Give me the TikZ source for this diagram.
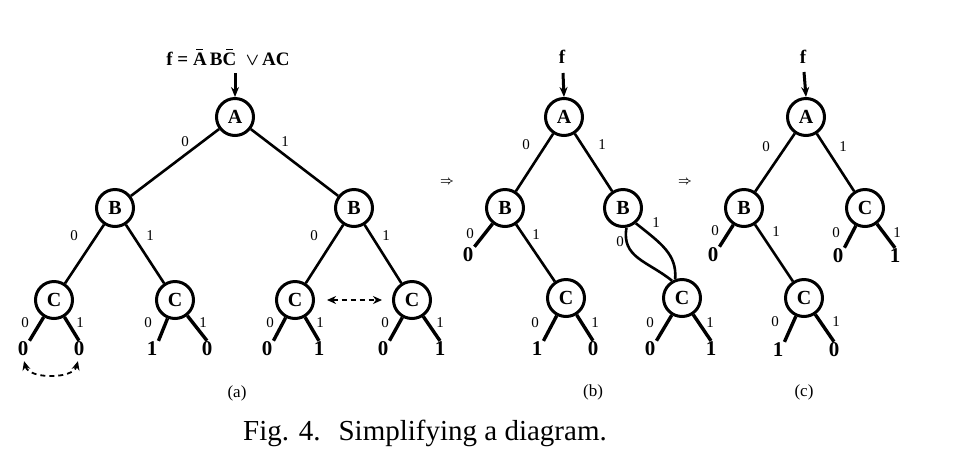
\documentclass[tikz,border=0pt]{standalone}
\usepackage{amsmath}
\usepackage{fontspec}
\setmainfont{Liberation Serif}
\usetikzlibrary{arrows.meta}
\newcommand\ovlet[1]{\leavevmode\setbox0\hbox{#1}\rlap{\hbox to \wd0{\hss\rule[\dimexpr\ht0+2.5pt\relax]{0.5\wd0}{1.3pt}\hss}}\box0}
\tikzset{
  vnode/.style={circle, draw, line width=3pt, minimum size=37pt, inner sep=0pt, font=\fontsize{20}{20}\selectfont\bfseries},
  elab/.style={font=\fontsize{15}{15}\selectfont, inner sep=0pt},
  leaf/.style={font=\fontsize{21}{21}\selectfont\bfseries, inner sep=1pt},
  flab/.style={font=\fontsize{19}{19}\selectfont\bfseries, inner sep=0pt},
  plab/.style={font=\fontsize{17}{17}\selectfont, inner sep=0pt},
  edge/.style={line width=2.6pt},
  ledge/.style={line width=3.4pt},
  inarrow/.style={line width=3pt, -{Stealth[length=10pt,width=8pt]}},
  dasharrow/.style={line width=1.8pt, dash pattern=on 5pt off 4pt, {Stealth[length=9pt,width=8pt]}-{Stealth[length=9pt,width=8pt]}},
}
\begin{document}
\begin{tikzpicture}[x=1pt,y=-1pt]
\useasboundingbox (0,0) rectangle (956,475);
% ---------------- (a) ----------------
\node[flab] (af) at (228,57) {f = \ovlet{A}\,B\ovlet{C}\ \ $\boldsymbol{\vee}$\,AC};
\coordinate (aft) at (235,73);
\node[vnode] (aA) at (235,117) {A};
\node[vnode] (aB1) at (115,208) {B};
\node[vnode] (aB2) at (354,208) {B};
\node[vnode] (aC1) at (54,300) {C};
\node[vnode] (aC2) at (175,300) {C};
\node[vnode] (aC3) at (295,300) {C};
\node[vnode] (aC4) at (412,300) {C};
\node[leaf] (aL1) at (23,349) {0};
\node[leaf] (aL2) at (79,349) {0};
\node[leaf] (aL3) at (152,349) {1};
\node[leaf] (aL4) at (207,349) {0};
\node[leaf] (aL5) at (267,349) {0};
\node[leaf] (aL6) at (319,349) {1};
\node[leaf] (aL7) at (383,349) {0};
\node[leaf] (aL8) at (440,349) {1};
\draw[inarrow] (aft) -- (aA.north);
\draw[edge] (aA) -- (aB1);
\draw[edge] (aA) -- (aB2);
\draw[edge] (aB1) -- (aC1);
\draw[edge] (aB1) -- (aC2);
\draw[edge] (aB2) -- (aC3);
\draw[edge] (aB2) -- (aC4);
\draw[ledge] (aC1) -- (aL1.north east);
\draw[ledge] (aC1) -- (aL2.north);
\draw[ledge] (aC2) -- (aL3.north east);
\draw[ledge] (aC2) -- (aL4.north);
\draw[ledge] (aC3) -- (aL5.north east);
\draw[ledge] (aC3) -- (aL6.north);
\draw[ledge] (aC4) -- (aL7.north east);
\draw[ledge] (aC4) -- (aL8.north);
\node[elab] (ae1) at (185,142) {0};
\node[elab] (ae2) at (285,142) {1};
\node[elab] (ae3) at (74,236) {0};
\node[elab] (ae4) at (150,236) {1};
\node[elab] (ae5) at (314,236) {0};
\node[elab] (ae6) at (386,236) {1};
\node[elab] (ae7) at (25,323) {0};
\node[elab] (ae8) at (80,323) {1};
\node[elab] (ae9) at (148,323) {0};
\node[elab] (ae10) at (203,323) {1};
\node[elab] (ae11) at (270,323) {0};
\node[elab] (ae12) at (320,323) {1};
\node[elab] (ae13) at (385,323) {0};
\node[elab] (ae14) at (440,323) {1};
\draw[dasharrow, shorten <=12pt, shorten >=10pt] (aC3) -- (aC4);
\draw[dasharrow, shorten <=4pt, shorten >=4pt] (aL1.south) .. controls +(6,22) and +(-6,22) .. (aL2.south);
\node[plab] (pa) at (237,393) {(a)};
% ---------------- arrows between ----------------
\node[font=\fontsize{13}{13}\selectfont] (imp1) at (447,182) {$\boldsymbol{\Rightarrow}$};
\node[font=\fontsize{13}{13}\selectfont] (imp2) at (685,182) {$\boldsymbol{\Rightarrow}$};
% ---------------- (b) ----------------
\node[flab] (bf) at (562,57) {f};
\coordinate (bft) at (563,73);
\node[vnode] (bA) at (564,117) {A};
\node[vnode] (bB1) at (505,208) {B};
\node[vnode] (bB2) at (623,208) {B};
\node[vnode] (bC1) at (566,298) {C};
\node[vnode] (bC2) at (682,298) {C};
\node[leaf] (bL0) at (468,255) {0};
\node[leaf] (bL1) at (537,349) {1};
\node[leaf] (bL2) at (593,349) {0};
\node[leaf] (bL3) at (650,349) {0};
\node[leaf] (bL4) at (711,349) {1};
\draw[inarrow] (bft) -- (bA.north);
\draw[edge] (bA) -- (bB1);
\draw[edge] (bA) -- (bB2);
\draw[ledge] (bB1) -- (bL0.north east);
\draw[edge] (bB1) -- (bC1);
\draw[edge] (bB2.-80) .. controls +(-5,30) and +(-25,-20) .. (bC2.120);
\draw[edge] (bB2.-50) .. controls +(25,20) and +(2,-25) .. (bC2.110);
\draw[ledge] (bC1) -- (bL1.north east);
\draw[ledge] (bC1) -- (bL2.north);
\draw[ledge] (bC2) -- (bL3.north east);
\draw[ledge] (bC2) -- (bL4.north);
\node[elab] (be1) at (526,145) {0};
\node[elab] (be2) at (602,145) {1};
\node[elab] (be3) at (470,234) {0};
\node[elab] (be4) at (536,235) {1};
\node[elab] (be5) at (620,242) {0};
\node[elab] (be6) at (656,223) {1};
\node[elab] (be7) at (535,323) {0};
\node[elab] (be8) at (595,323) {1};
\node[elab] (be9) at (650,323) {0};
\node[elab] (be10) at (710,323) {1};
\node[plab] (pb) at (593,392) {(b)};
% ---------------- (c) ----------------
\node[flab] (cf) at (803,57) {f};
\coordinate (cft) at (804,72);
\node[vnode] (cA) at (806,117) {A};
\node[vnode] (cB) at (744,208) {B};
\node[vnode] (cC2) at (865,208) {C};
\node[vnode] (cC1) at (804,298) {C};
\node[leaf] (cL0) at (713,255) {0};
\node[leaf] (cL1) at (838,256) {0};
\node[leaf] (cL2) at (895,256) {1};
\node[leaf] (cL3) at (778,350) {1};
\node[leaf] (cL4) at (834,350) {0};
\draw[inarrow] (cft) -- (cA.north);
\draw[edge] (cA) -- (cB);
\draw[edge] (cA) -- (cC2);
\draw[ledge] (cB) -- (cL0.north east);
\draw[edge] (cB) -- (cC1);
\draw[ledge] (cC2) -- (cL1.north east);
\draw[ledge] (cC2) -- (cL2.north);
\draw[ledge] (cC1) -- (cL3.north east);
\draw[ledge] (cC1) -- (cL4.north);
\node[elab] (ce1) at (766,147) {0};
\node[elab] (ce2) at (843,147) {1};
\node[elab] (ce3) at (715,231) {0};
\node[elab] (ce4) at (776,232) {1};
\node[elab] (ce5) at (836,233) {0};
\node[elab] (ce6) at (897,233) {1};
\node[elab] (ce7) at (775,322) {0};
\node[elab] (ce8) at (836,322) {1};
\node[plab] (pc) at (804,392) {(c)};
% ---------------- caption ----------------
\node[font=\fontsize{29}{29}\selectfont, inner sep=0pt] (cap) at (425,433) {Fig. 4.\hspace{18pt}Simplifying a diagram.};
\end{tikzpicture}
\end{document}
